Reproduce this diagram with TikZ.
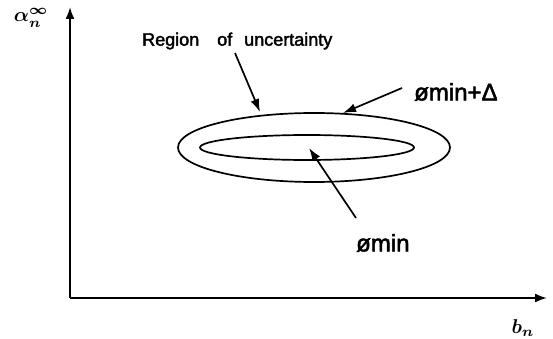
\documentclass[tikz,border=0pt]{standalone}
\usepackage{fontspec}
\usepackage{graphicx}
\newfontfamily\labelfont[FakeBold=2.2]{Liberation Sans}
\usetikzlibrary{arrows.meta,shapes.geometric}
\tikzset{
  axis/.style={line width=1.9pt,-{Latex[length=12pt,width=9pt]}},
  contour/.style={ellipse,draw,line width=1.7pt,inner sep=0pt},
  pointer/.style={line width=1.7pt,-{Latex[length=13pt,width=9pt]}},
  tag/.style={font=\labelfont\fontsize{18}{21}\selectfont,inner sep=0pt},
  bigtag/.style={font=\labelfont\fontsize{24}{27}\selectfont,inner sep=0pt},
  mlabel/.style={inner sep=0pt},
}
\newcommand{\bigmath}[1]{\scalebox{2}{\boldmath$#1$}}

\begin{document}
\begin{tikzpicture}[x=1pt,y=-1pt]
  \useasboundingbox (0,0) rectangle (553,339);
  % ---- axes ----
  \coordinate (origin) at (70,298);
  \coordinate (ytip) at (70,7);
  \coordinate (xtip) at (547,298);
  \draw[axis] (origin) -- (ytip);
  \draw[axis] (origin) -- (xtip);
  \node[mlabel] (ylab) at (31,18) {\bigmath{\alpha_n^\infty}};
  \node[mlabel] (xlab) at (523,328) {\bigmath{b_n}};
  % ---- contours ----
  \node[contour,minimum width=272pt,minimum height=69pt] (outer) at (314,147.5) {};
  \node[contour,minimum width=214pt,minimum height=25pt] (inner) at (307,147.5) {};
  % ---- labels ----
  \node[tag,anchor=west] (region) at (142,41) {Region\hspace{18pt}of\hspace{12pt}uncertainty};
  \node[bigtag,anchor=west] (delta) at (414,92) {ømin+Δ};
  \node[bigtag,anchor=west] (min) at (356,243) {ømin};
  % ---- pointer ends ----
  \coordinate (rtail) at (235,53);
  \coordinate (rtip) at (260,112);
  \coordinate (dtail) at (402,88);
  \coordinate (dtip) at (343,113);
  \coordinate (mtail) at (356,218);
  \coordinate (mtip) at (309,148);
  % ---- pointers ----
  \draw[pointer] (rtail) -- (rtip);
  \draw[pointer] (dtail) -- (dtip);
  \draw[pointer] (mtail) -- (mtip);
\end{tikzpicture}
\end{document}
